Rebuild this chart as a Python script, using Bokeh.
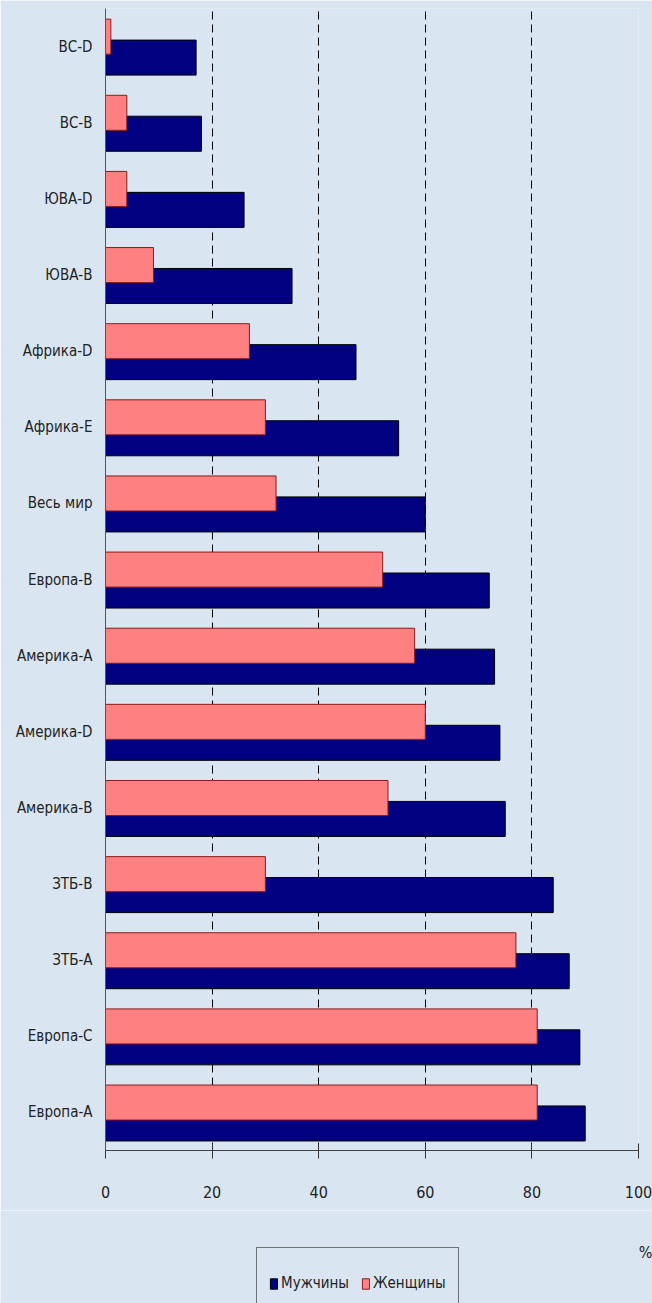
from bokeh.plotting import figure
from bokeh.models import FactorRange, Legend, LegendItem, Label, ColumnDataSource, FixedTicker, Range1d
from bokeh.layouts import column
from bokeh.transform import dodge
from bokeh.embed import file_html
from bokeh.resources import INLINE

categories = ["ВС-D", "ВС-В", "ЮВА-D", "ЮВА-В", "Африка-D", "Африка-Е", "Весь мир",
              "Европа-В", "Америка-А", "Америка-D", "Америка-В", "ЗТБ-В", "ЗТБ-А",
              "Европа-С", "Европа-А"]
men = [17, 18, 26, 35, 47, 55, 60, 72, 73, 74, 75, 84, 87, 89, 90]
women = [1, 4, 4, 9, 27, 30, 32, 52, 58, 60, 53, 30, 77, 81, 81]
x_ticks = [0, 20, 40, 60, 80, 100]
series_names = ["Мужчины", "Женщины"]
unit_label = "%"

FONT = "'Liberation Sans Narrow', 'DejaVu Sans Condensed', 'Liberation Sans', sans-serif"
BG = "#d9e6f2"
MEN_C = "#000080"
WOMEN_C = "#ff8080"

src = ColumnDataSource(dict(cat=categories, men=men, women=women))

p = figure(width=652, height=1210,
           y_range=FactorRange(factors=categories[::-1], range_padding=0),
           x_range=(0, 100),
           output_backend="svg", toolbar_location=None,
           min_border_left=105, min_border_right=14, min_border_top=8, min_border_bottom=60)
p.frame_align = False

p.background_fill_color = BG
p.border_fill_color = BG
p.outline_line_color = None

r_men = p.hbar(y=dodge('cat', -0.145, range=p.y_range), left=0, right='men', height=0.46,
               fill_color=MEN_C, line_color="#000000", line_width=1, source=src)
r_women = p.hbar(y=dodge('cat', 0.13, range=p.y_range), left=0, right='women', height=0.46,
                 fill_color=WOMEN_C, line_color="#8b1a1a", line_width=1, source=src)

p.ygrid.grid_line_color = None
p.xgrid.ticker = FixedTicker(ticks=x_ticks[1:])
p.xgrid.grid_line_color = "#000000"
p.xgrid.grid_line_dash = "8 5"
p.xgrid.grid_line_width = 1

p.xaxis.ticker = FixedTicker(ticks=x_ticks)
p.xaxis.axis_line_color = "#444444"
p.xaxis.major_tick_line_color = "#333333"
p.xaxis.major_tick_in = 7
p.xaxis.major_tick_out = 8
p.xaxis.minor_tick_line_color = None
p.xaxis.major_label_standoff = 27
p.xaxis.major_label_text_font = FONT
p.xaxis.major_label_text_font_size = "16px"
p.xaxis.major_label_text_color = "#222222"

p.yaxis.axis_line_color = "#555555"
p.yaxis.major_tick_line_color = None
p.yaxis.minor_tick_line_color = None
p.yaxis.major_label_standoff = 7
p.yaxis.major_label_text_font = FONT
p.yaxis.major_label_text_font_size = "15px"
p.yaxis.major_label_text_color = "#222222"

# bottom strip with legend and unit label (pixel-like coordinates)
p2 = figure(width=652, height=93, x_range=Range1d(0, 652), y_range=Range1d(0, 93),
            output_backend="svg", toolbar_location=None, min_border=0,
            x_axis_location=None, y_axis_location=None)
p2.frame_align = False
p2.background_fill_color = BG
p2.border_fill_color = BG
p2.outline_line_color = None
p2.grid.grid_line_color = None

# hidden stand-ins carrying the legend styling
d_men = p2.hbar(y='men', left=0, right='men', height=1, fill_color=MEN_C,
                line_color="#000000", source=src, visible=False)
d_women = p2.hbar(y='women', left=0, right='women', height=1, fill_color=WOMEN_C,
                  line_color="#8b1a1a", source=src, visible=False)

legend = Legend(items=[LegendItem(label=series_names[0], renderers=[d_men]),
                       LegendItem(label=series_names[1], renderers=[d_women])],
                orientation="horizontal", location=(256, -16),
                label_text_font=FONT, label_text_font_size="15px", label_text_color="#222222",
                glyph_width=9, glyph_height=13, label_height=46, label_standoff=3, spacing=12,
                padding=12, margin=0, click_policy="none",
                border_line_color="#000000", border_line_width=1,
                background_fill_color=BG, background_fill_alpha=1.0)
p2.add_layout(legend, "center")

pct = Label(x=645, y=51, text=unit_label, text_align="center", text_baseline="middle",
            text_font=FONT, text_font_size="16px", text_color="#222222")
p2.add_layout(pct)

layout = column(p, p2, spacing=0)
open("out.html", "w").write(file_html(layout, INLINE))
